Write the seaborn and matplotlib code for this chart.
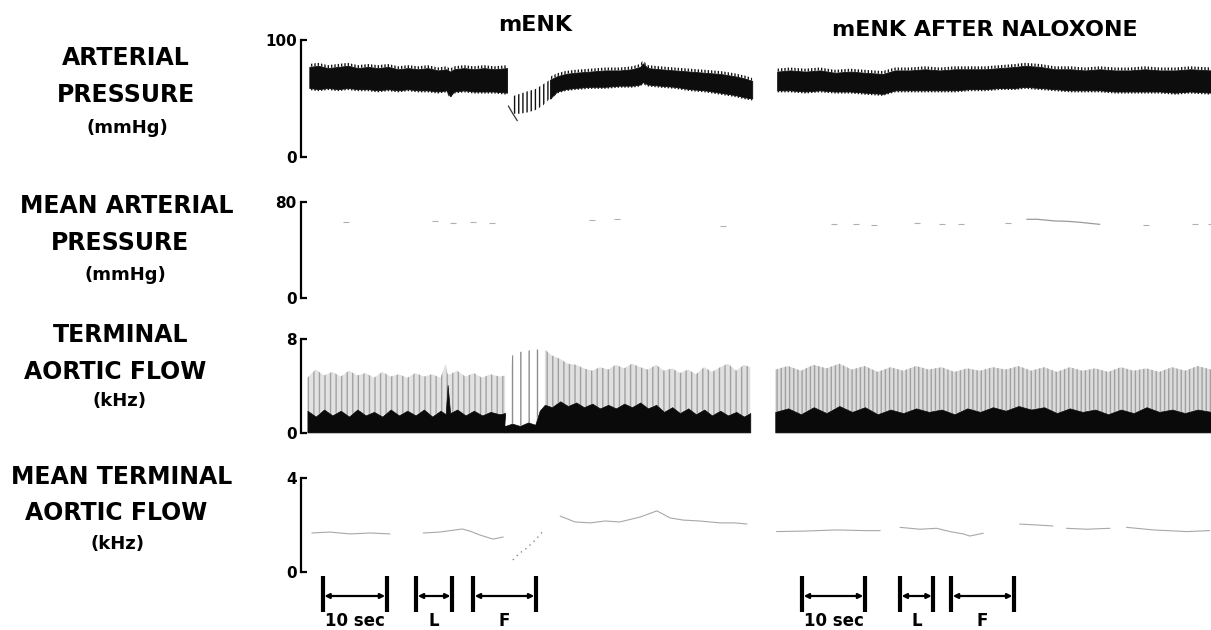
import matplotlib
matplotlib.use("Agg")
import matplotlib.pyplot as plt
import pandas as pd
import seaborn as sns

# ------------------------------------------------------------------
# Recorded traces (time in seconds from the start of the record)
# ------------------------------------------------------------------
# Arterial pressure envelope (mmHg): control run before mENK
ap_pre_t = [1.3, 2.7, 4.2, 5.8, 7.3, 8.9, 10.5, 12.0, 13.6, 15.2, 16.7, 18.3,
            19.8, 21.4, 22.7, 23.3, 23.9, 25.5, 27.0, 28.6, 30.2, 32.2]
ap_pre_sys = [77, 78, 76, 77, 78, 76, 77, 76, 77, 75, 76, 75,
              76, 74, 75, 73, 75, 76, 75, 76, 75, 76]
ap_pre_dia = [59, 58, 59, 58, 59, 58, 58, 57, 58, 57, 58, 57,
              57, 56, 57, 52, 56, 57, 56, 56, 56, 55]

# Arterial pressure envelope after mENK
ap_post_t = [33.1, 34.2, 35.3, 36.6, 37.8, 38.9, 40.0, 41.3, 42.8, 45.2, 47.5,
             49.8, 51.7, 53.0, 53.4, 54.2, 56.1, 58.4, 60.8, 63.1, 65.5, 67.8,
             69.4, 70.5]
ap_post_sys = [52, 54, 56, 58, 62, 66, 69, 71, 72, 73, 74,
               74, 75, 77, 80, 76, 75, 74, 73, 72, 71, 69,
               67, 65]
ap_post_dia = [37, 37, 38, 40, 44, 50, 56, 58, 59, 60, 60,
               61, 61, 62, 64, 62, 61, 60, 58, 57, 55, 53,
               51, 50]
ap_tail_t = [32.4, 33.1, 33.8]
ap_tail_v = [43.6, 37.0, 31.0]

# Arterial pressure envelope, mENK after naloxone
ap_nal_t = [74.4, 76.4, 78.8, 81.1, 83.4, 85.8, 88.1, 90.9, 92.8, 95.2, 97.5,
            99.8, 102.2, 104.5, 106.9, 109.2, 111.6, 113.1, 115.5, 117.8,
            120.2, 122.5, 124.8, 127.2, 129.5, 131.9, 134.2, 136.6, 138.9,
            142.2]
ap_nal_sys = [73, 74, 73, 74, 72, 73, 72, 71, 74, 74, 75,
              74, 75, 75, 75, 76, 77, 78, 77, 75,
              75, 74, 75, 74, 74, 75, 74, 74, 75,
              74]
ap_nal_dia = [57, 57, 56, 57, 56, 56, 55, 54, 57, 57, 57,
              57, 57, 58, 58, 59, 59, 60, 59, 58,
              57, 57, 57, 56, 56, 56, 56, 55, 56,
              55]

# Mean arterial pressure (mmHg), faint pen marks
map_t = [7.1, 20.9, 23.8, 26.9, 29.8, 45.4, 49.3, 66.0,
         83.3, 86.7, 89.5, 96.2, 100.2, 103.2, 110.4, 132.0, 139.7, 142.2]
map_v = [63.6, 64.2, 62.2, 63.1, 62.8, 65.0, 65.8, 60.0,
         61.4, 61.4, 60.6, 62.2, 61.4, 61.4, 62.8, 60.6, 61.4, 61.4]
map_seg_t = [113.4, 115.0, 117.8, 119.7, 121.7, 123.3, 124.8]
map_seg_v = [65.6, 65.6, 64.2, 63.9, 63.1, 62.2, 61.4]

# Terminal aortic flow (kHz): peak of each burst and the dense lower band
taf_pre_t = [1.0, 2.3, 3.6, 4.9, 6.2, 7.5, 8.8, 10.1, 11.4, 12.7, 14.0, 15.3,
             16.6, 17.9, 19.2, 20.5, 21.8, 22.6, 22.9, 23.3, 24.4, 25.7, 27.0,
             28.3, 29.6, 31.0, 31.9]
taf_pre_peak = [4.7, 5.4, 4.9, 5.2, 4.8, 5.3, 4.9, 5.1, 4.7, 5.2, 4.8, 5.0,
                4.7, 5.1, 4.8, 5.0, 4.7, 5.9, 5.0, 5.0, 5.3, 4.8, 5.1,
                4.7, 5.0, 4.8, 4.9]
taf_pre_band = [1.9, 1.4, 2.0, 1.5, 1.9, 1.4, 2.0, 1.5, 1.8, 1.4, 2.0, 1.5,
                1.9, 1.5, 2.0, 1.4, 1.9, 1.6, 4.1, 1.7, 2.0, 1.5, 1.9,
                1.5, 1.8, 1.6, 1.7]

taf_post_t = [31.9, 33.0, 34.2, 35.5, 36.6, 37.3, 38.1, 39.2, 40.5, 41.7, 43.0,
              44.2, 45.5, 46.7, 48.0, 49.2, 50.5, 51.7, 53.0, 54.2, 55.5,
              56.7, 58.0, 59.2, 60.5, 61.7, 63.0, 64.2, 65.5, 66.7, 68.0,
              69.2, 70.2]
taf_post_peak = [0.6, 6.6, 6.9, 7.0, 7.2, 7.0, 7.1, 6.6, 6.3, 5.9, 5.8,
                 5.5, 5.3, 5.6, 5.4, 5.8, 5.5, 5.9, 5.6, 5.4, 5.8,
                 5.3, 5.5, 5.1, 5.4, 5.0, 5.6, 5.2, 5.6, 5.9, 5.3,
                 5.8, 5.6]
taf_post_band = [0.6, 0.8, 0.6, 0.9, 0.7, 1.9, 2.4, 2.2, 2.7, 2.3, 2.6,
                 2.2, 2.5, 2.1, 2.4, 2.1, 2.5, 2.2, 2.6, 2.1, 2.4,
                 1.8, 2.2, 1.7, 2.1, 1.6, 2.0, 1.5, 1.9, 1.5, 1.8,
                 1.4, 1.7]

taf_nal_t = [74.1, 76.1, 78.1, 80.1, 82.1, 84.1, 86.1, 88.1, 90.1, 92.1, 94.1,
             96.1, 98.1, 100.1, 102.1, 104.1, 106.1, 108.1, 110.1, 112.1,
             114.1, 116.1, 118.1, 120.1, 122.1, 124.1, 126.1, 128.1, 130.1,
             132.1, 134.1, 136.1, 138.1, 140.1, 142.2]
taf_nal_peak = [5.4, 5.7, 5.3, 5.8, 5.5, 5.9, 5.4, 5.7, 5.2, 5.6, 5.3,
                5.7, 5.4, 5.6, 5.2, 5.5, 5.3, 5.6, 5.4, 5.7,
                5.3, 5.6, 5.2, 5.6, 5.3, 5.5, 5.2, 5.6, 5.3,
                5.5, 5.2, 5.6, 5.3, 5.7, 5.4]
taf_nal_band = [1.8, 2.1, 1.6, 2.2, 1.7, 2.3, 1.8, 2.2, 1.6, 2.0, 1.7,
                2.1, 1.8, 2.0, 1.6, 2.1, 1.8, 2.2, 1.9, 2.3,
                2.0, 2.2, 1.7, 2.1, 1.8, 2.0, 1.6, 2.0, 1.7,
                2.2, 1.8, 2.0, 1.7, 2.0, 1.8]

# Mean terminal aortic flow (kHz); piece ids mark pen lifts
mtaf_t = [1.7, 4.5, 7.7, 10.8, 13.9,
          19.1, 21.7, 24.1, 25.2, 26.4, 28.0, 30.0, 31.6,
          40.5, 42.8, 45.2, 47.5, 49.8, 53.0, 55.6, 57.7, 59.7, 62.3, 65.5,
          67.8, 69.7,
          74.3, 78.5, 83.7, 88.4, 90.5,
          93.6, 96.7, 99.3, 101.4, 103.5, 104.5, 106.6,
          112.3, 115.0, 117.5,
          119.6, 122.8, 126.4,
          129.0, 133.2, 138.4, 142.0]
mtaf_v = [1.66, 1.70, 1.62, 1.66, 1.62,
          1.66, 1.70, 1.79, 1.83, 1.74, 1.57, 1.40, 1.49,
          2.38, 2.13, 2.09, 2.17, 2.13, 2.34, 2.60, 2.30, 2.21, 2.17, 2.09,
          2.09, 2.04,
          1.72, 1.74, 1.79, 1.76, 1.76,
          1.90, 1.82, 1.86, 1.72, 1.62, 1.53, 1.65,
          2.04, 2.00, 1.96,
          1.86, 1.82, 1.86,
          1.90, 1.79, 1.72, 1.76]
mtaf_piece = [0] * 5 + [1] * 8 + [2] * 13 + [3] * 5 + [4] * 7 + [5] * 3 + [6] * 3 + [7] * 4
mtaf_dip_t = [33.1, 34.2, 35.3, 36.6, 37.7]
mtaf_dip_v = [0.51, 0.81, 1.02, 1.36, 1.70]

# Time calibration and event bars (seconds)
bar_labels = ["10 sec", "L", "F"]
bar_start_ctrl = [3.4, 18.0, 26.9]
bar_end_ctrl = [13.4, 23.6, 36.7]
bar_start_nal = [78.3, 93.6, 101.6]
bar_end_nal = [88.1, 98.8, 111.4]

row_titles = [["ARTERIAL", "PRESSURE", "(mmHg)"],
              ["MEAN ARTERIAL", "PRESSURE", "(mmHg)"],
              ["TERMINAL", "AORTIC FLOW", "(kHz)"],
              ["MEAN TERMINAL", "AORTIC FLOW", "(kHz)"]]
row_max = [100, 80, 8, 4]
panel_titles = ["mENK", "mENK AFTER NALOXONE"]

# ------------------------------------------------------------------
sns.set_theme(style="ticks")
plt.rcParams.update({
    "font.family": ["DejaVu Sans"],
    "axes.edgecolor": "black",
    "ytick.color": "black",
    "text.color": "black",
    "hatch.linewidth": 1.0,
})

W, H = 1211, 630
fig = plt.figure(figsize=(W / 100, H / 100), dpi=100)
fig.patch.set_facecolor("white")

PX_PER_SEC = 6.4
X0, X1 = 301, 1211
T_MAX = (X1 - X0) / PX_PER_SEC
PEN_FRINGE = 2.5   # mmHg of pen stroke overshoot drawn as a comb


def px_axes(left, top, right, bottom):
    return fig.add_axes([left / W, 1 - bottom / H, (right - left) / W, (bottom - top) / H])


def style_row(ax, ymax):
    ax.set_xlim(0, T_MAX)
    ax.set_ylim(0, ymax)
    sns.despine(ax=ax, top=True, right=True, bottom=True)
    ax.spines["left"].set_linewidth(1.6)
    ax.set_yticks([0, ymax])
    ax.set_yticklabels(["0", str(ymax)], fontweight="bold")
    ax.tick_params(axis="y", left=True, direction="in", length=4, width=1.6,
                   pad=3, labelsize=11)
    ax.set_xticks([])
    ax.set_xlabel("")
    ax.set_ylabel("")
    ax.patch.set_alpha(0)


def pressure_band(ax, t, dia, sys, where=None):
    """Dense pulsatile pen trace: solid core with a comb of stroke tips."""
    ax.fill_between(t, dia, sys, where=where, color="#0d0d0d", lw=0.6)
    ax.fill_between(t, [s for s in sys], [s + PEN_FRINGE for s in sys], where=where,
                    facecolor="none", edgecolor="#151515", hatch="|||||", lw=0)
    ax.fill_between(t, [d - PEN_FRINGE * 0.7 for d in dia], dia, where=where,
                    facecolor="none", edgecolor="#151515", hatch="|||||", lw=0)


row_px = [(40, 157), (202, 298), (339, 433), (478, 572)]
axes = []
for (top, bottom), ymax in zip(row_px, row_max):
    ax = px_axes(X0, top, X1, bottom)
    style_row(ax, ymax)
    axes.append(ax)
ax_ap, ax_map, ax_taf, ax_mtaf = axes

# ---- arterial pressure ----
pressure_band(ax_ap, ap_pre_t, ap_pre_dia, ap_pre_sys)
early = [t <= 38.9 for t in ap_post_t]
late = [t >= 38.9 for t in ap_post_t]
ax_ap.fill_between(ap_post_t, ap_post_dia, ap_post_sys, where=early,
                   facecolor="white", edgecolor="#111111", hatch="||||", lw=0)
pressure_band(ax_ap, ap_post_t, ap_post_dia, ap_post_sys, where=late)
sns.lineplot(x=ap_tail_t, y=ap_tail_v, ax=ax_ap, color="#333333", lw=0.9,
             estimator=None, sort=False)
pressure_band(ax_ap, ap_nal_t, ap_nal_dia, ap_nal_sys)

# ---- mean arterial pressure ----
sns.scatterplot(x=map_t, y=map_v, ax=ax_map, marker="_", s=14, color="#b0b0b0",
                linewidth=0.8)
sns.lineplot(x=map_seg_t, y=map_seg_v, ax=ax_map, color="#9a9a9a", lw=0.9,
             estimator=None, sort=False)

# ---- terminal aortic flow ----
ax_taf.fill_between(taf_pre_t, taf_pre_band, taf_pre_peak, facecolor="#e2e2e2",
                    edgecolor="#a2a2a2", hatch="|||", lw=0)
ax_taf.fill_between(taf_pre_t, 0.05, taf_pre_band, color="#0a0a0a", lw=0.5)
post_sparse = [t <= 38.1 for t in taf_post_t]
post_dense = [t >= 38.1 for t in taf_post_t]
ax_taf.fill_between(taf_post_t, taf_post_band, taf_post_peak, where=post_sparse,
                    facecolor="white", edgecolor="#8c8c8c", hatch="||", lw=0)
ax_taf.fill_between(taf_post_t, taf_post_band, taf_post_peak, where=post_dense,
                    facecolor="#e0e0e0", edgecolor="#a0a0a0", hatch="|||", lw=0)
ax_taf.fill_between(taf_post_t, 0.05, taf_post_band, color="#0a0a0a", lw=0.5)
ax_taf.fill_between(taf_nal_t, taf_nal_band, taf_nal_peak, facecolor="#dcdcdc",
                    edgecolor="#a0a0a0", hatch="||||", lw=0)
ax_taf.fill_between(taf_nal_t, 0.05, taf_nal_band, color="#0a0a0a", lw=0.5)

# ---- mean terminal aortic flow ----
mtaf = pd.DataFrame({"t": mtaf_t, "v": mtaf_v, "piece": mtaf_piece})
sns.lineplot(data=mtaf, x="t", y="v", units="piece", estimator=None, sort=False,
             ax=ax_mtaf, color="#a8a8a8", lw=0.8)
sns.lineplot(x=mtaf_dip_t, y=mtaf_dip_v, ax=ax_mtaf, color="#8a8a8a", lw=1.0,
             linestyle=(0, (1, 3)), estimator=None, sort=False)

for ax, ymax in zip(axes, row_max):
    style_row(ax, ymax)

# ---- calibration / event bars ----
ax_bar = px_axes(X0, 573, X1, 630)
ax_bar.set_xlim(0, T_MAX)
ax_bar.set_ylim(0, 57)
ax_bar.axis("off")
for starts, ends in [(bar_start_ctrl, bar_end_ctrl), (bar_start_nal, bar_end_nal)]:
    for label, s, e in zip(bar_labels, starts, ends):
        ax_bar.vlines([s, e], 18, 54, color="black", lw=3.0)
        ax_bar.annotate("", xy=(e - 0.25, 34), xytext=(s + 0.25, 34),
                        arrowprops=dict(arrowstyle="<|-|>", color="black", lw=1.6,
                                        mutation_scale=7, shrinkA=0, shrinkB=0))
        ax_bar.text((s + e) / 2, 8.5, label, ha="center", va="center",
                    fontsize=12, fontweight="bold")

# ---- row titles ----
row_text_y = [(58, 95, 128), (206, 243, 275), (335, 372, 401), (477, 513, 544)]
row_text_x = [(126, 126, 127), (127, 120, 125), (121, 115, 120), (122, 116, 118)]
for lines, ys, xs in zip(row_titles, row_text_y, row_text_x):
    for i, (txt, y, x) in enumerate(zip(lines, ys, xs)):
        fig.text(x / W, 1 - y / H, txt, ha="center", va="center",
                 fontsize=13 if i == 2 else 17, fontweight="bold")

# ---- panel titles ----
fig.text(535 / W, 1 - 25 / H, panel_titles[0], ha="center", va="center",
         fontsize=16, fontweight="bold")
fig.text(985 / W, 1 - 30 / H, panel_titles[1], ha="center", va="center",
         fontsize=16, fontweight="bold")

fig.savefig("out.png", dpi=100, facecolor="white")
